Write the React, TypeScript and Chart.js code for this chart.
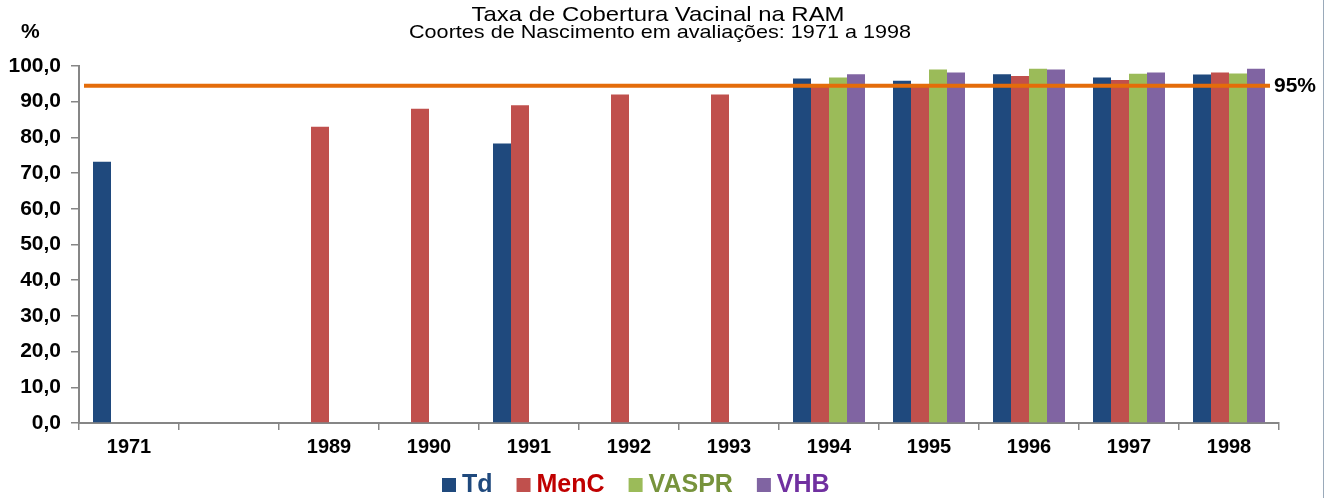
import React, { useEffect, useRef } from "react";
import { Chart, registerables } from "chart.js";

Chart.register(...registerables);

const categories = ["1971", "", "1989", "1990", "1991", "1992", "1993", "1994", "1995", "1996", "1997", "1998"];
const tdValues = [73.2, null, null, null, 78.3, null, null, 96.5, 95.9, 97.7, 96.8, 97.6];
const mencValues = [null, null, 83.0, 88.0, 89.0, 92.0, 92.0, 94.8, 94.7, 97.2, 96.1, 98.2];
const vasprValues = [null, null, null, null, null, null, null, 96.8, 99.0, 99.2, 97.8, 97.9];
const vhbValues = [null, null, null, null, null, null, null, 97.7, 98.2, 99.0, 98.2, 99.2];
const targetValue = [94.5];
const targetLabel = "95%";
const seriesNames = ["Td", "MenC", "VASPR", "VHB"];
const seriesColors = ["#1F497D", "#C0504D", "#9BBB59", "#8064A2"];
const legendTextColors = ["#1F497D", "#C00000", "#77933C", "#7030A0"];
const titleText = "Taxa de Cobertura Vacinal na RAM";
const subtitleText = "Coortes de Nascimento em avaliações: 1971 a 1998";
const yUnit = "%";

const FONT = "Arial, 'Liberation Sans', sans-serif";

const overlayPlugin = {
  id: "overlay",
  afterDatasetsDraw(chart: any) {
    const { ctx, chartArea, scales } = chart;
    const y = scales.y.getPixelForValue(targetValue[0]);
    ctx.save();
    ctx.strokeStyle = "#E46C0A";
    ctx.lineWidth = 4;
    ctx.beginPath();
    ctx.moveTo(chartArea.left + 5, y);
    ctx.lineTo(chartArea.right - 9, y);
    ctx.stroke();
    ctx.fillStyle = "#000";
    ctx.font = `bold 21px ${FONT}`;
    ctx.textBaseline = "middle";
    ctx.textAlign = "left";
    ctx.fillText(targetLabel, chartArea.right - 5, y + 1);
    ctx.restore();
  },
  afterDraw(chart: any) {
    const { ctx } = chart;
    ctx.save();
    const drawScaled = (text: string, size: number, weight: string, cx: number, by: number, targetW: number) => {
      ctx.font = `${weight} ${size}px ${FONT}`;
      const w = ctx.measureText(text).width;
      const sx = targetW / w;
      ctx.save();
      ctx.translate(cx, by);
      ctx.scale(sx, 1);
      ctx.textAlign = "center";
      ctx.textBaseline = "alphabetic";
      ctx.fillStyle = "#000";
      ctx.fillText(text, 0, 0);
      ctx.restore();
    };
    drawScaled(titleText, 21, "normal", 658, 21, 373);
    drawScaled(subtitleText, 19, "normal", 660, 38, 502);
    ctx.font = `bold 21px ${FONT}`;
    ctx.fillStyle = "#000";
    ctx.textAlign = "left";
    ctx.textBaseline = "alphabetic";
    ctx.fillText(yUnit, 21, 38);
    let x = 442;
    ctx.font = `bold 25px ${FONT}`;
    chart.data.datasets.forEach((ds: any, i: number) => {
      ctx.fillStyle = ds.backgroundColor;
      ctx.fillRect(x, 478, 14, 14);
      ctx.fillStyle = legendTextColors[i];
      ctx.fillText(ds.label, x + 20, 491.5);
      x += 20 + ctx.measureText(ds.label).width + 24;
    });
    ctx.strokeStyle = "#9AAABA";
    ctx.lineWidth = 1;
    ctx.beginPath();
    ctx.moveTo(1323.5, 0);
    ctx.lineTo(1323.5, 498);
    ctx.stroke();
    ctx.restore();
  },
};

export default function App() {
  const ref = useRef<HTMLCanvasElement | null>(null);
  useEffect(() => {
    document.body.style.margin = "0";
    const canvas = ref.current!;
    const seriesData = [tdValues, mencValues, vasprValues, vhbValues];
    const chart = new Chart(canvas, {
      type: "bar",
      data: {
        labels: categories,
        datasets: seriesData.map((d, i) => ({
          label: seriesNames[i],
          data: d,
          backgroundColor: seriesColors[i],
          borderWidth: 0,
          categoryPercentage: 0.72,
          barPercentage: 1.0,
        })),
      },
      options: {
        animation: false,
        responsive: false,
        devicePixelRatio: 1,
        layout: { padding: { top: 66, right: 55, left: 0, bottom: 0 } },
        plugins: {
          legend: { display: false },
          tooltip: { enabled: false },
          title: { display: false },
        },
        scales: {
          x: {
            afterFit: (s: any) => {
              s.height = 75;
            },
            grid: {
              display: true,
              offset: true,
              drawOnChartArea: false,
              drawTicks: true,
              tickLength: 7,
              color: "#868686",
              lineWidth: 1.5,
            },
            border: { display: true, color: "#868686", width: 2 },
            ticks: {
              color: "#000",
              font: { family: FONT, size: 20, weight: "bold" },
              padding: 5,
              maxRotation: 0,
              autoSkip: false,
            },
          },
          y: {
            min: 0,
            max: 100,
            afterFit: (s: any) => {
              s.width = 79;
            },
            grid: {
              display: true,
              drawOnChartArea: false,
              drawTicks: true,
              tickLength: 8,
              color: "#868686",
              lineWidth: 1.5,
            },
            border: { display: true, color: "#868686", width: 2 },
            ticks: {
              stepSize: 10,
              color: "#000",
              font: { family: FONT, size: 21, weight: "bold" },
              padding: 10,
              callback: (v: any) => Number(v).toFixed(1).replace(".", ","),
            },
          },
        },
      },
      plugins: [overlayPlugin],
    });
    return () => chart.destroy();
  }, []);
  return (
    <div style={{ position: "absolute", left: 0, top: 0, width: 1334, height: 498, background: "#fff" }}>
      <canvas ref={ref} width={1334} height={498} style={{ width: 1334, height: 498, display: "block" }} />
    </div>
  );
}
